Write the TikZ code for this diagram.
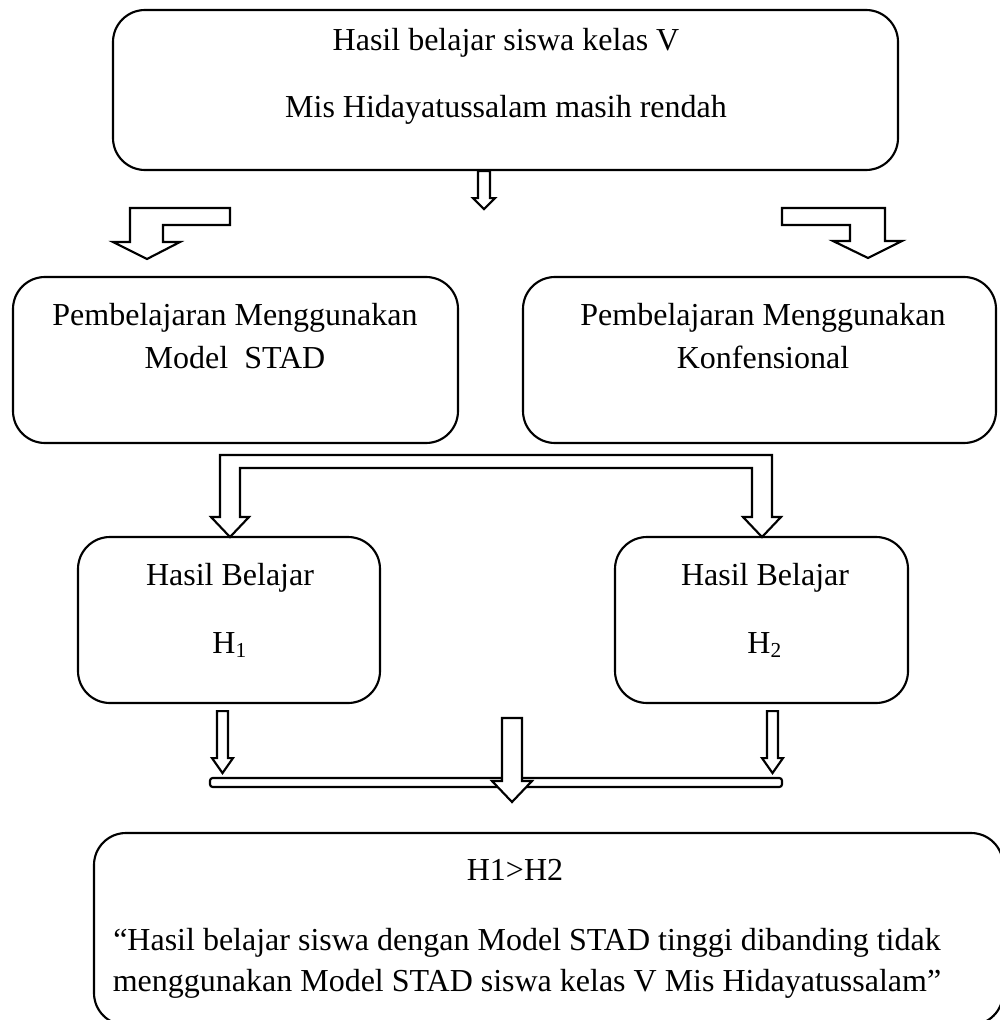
\documentclass[tikz,border=0pt]{standalone}
\usepackage{fontspec}
\setmainfont{Liberation Serif}
\newcommand{\pxu}{0.375pt}

\begin{document}
\begin{tikzpicture}[x=0.375pt,y=-0.375pt,line width=0.8pt,
    font=\fontsize{12pt}{14pt}\selectfont,
    box/.style={draw,rounded corners=12pt,inner sep=0pt},
    txt/.style={anchor=base,inner sep=0pt},
    barrow/.style={draw,fill=white,line join=miter}]
   \useasboundingbox (0,0) rectangle (999,1020);
   % boxes
   \node[box,minimum width=785*\pxu,minimum height=160*\pxu] (masalah) at (505.5,90) {};
   \node[box,minimum width=445*\pxu,minimum height=166*\pxu] (stad) at (235.5,360) {};
   \node[box,minimum width=473*\pxu,minimum height=166*\pxu] (konv) at (759.5,360) {};
   \node[box,minimum width=302*\pxu,minimum height=166*\pxu] (hasil_1) at (229,620) {};
   \node[box,minimum width=293*\pxu,minimum height=166*\pxu] (hasil_2) at (761.5,620) {};
   \node[box,minimum width=909*\pxu,minimum height=192*\pxu] (simpulan) at (548.5,929) {};
   % texts
   \node[txt] (masalah_a) at (506,51) {Hasil belajar siswa kelas V};
   \node[txt] (masalah_b) at (506,117) {Mis Hidayatussalam masih rendah};
   \node[txt] (stad_a) at (235,325) {Pembelajaran Menggunakan};
   \node[txt] (stad_b) at (235,368) {Model~ STAD};
   \node[txt] (konv_a) at (763,325) {Pembelajaran Menggunakan};
   \node[txt] (konv_b) at (763,368) {Konfensional};
   \node[txt] (hasil_1a) at (230,585) {Hasil Belajar};
   \node[txt] (hasil_1b) at (230,653) {H\textsubscript{1}};
   \node[txt] (hasil_2a) at (765,585) {Hasil Belajar};
   \node[txt] (hasil_2b) at (765,653) {H\textsubscript{2}};
   \node[txt] (simpulan_a) at (515,880) {H1>H2};
   \node[txt] (simpulan_b) at (527,950) {“Hasil belajar siswa dengan Model STAD tinggi dibanding tidak};
   \node[txt] (simpulan_c) at (527,991) {menggunakan Model STAD siswa kelas V Mis Hidayatussalam”};
   % block arrows
   \draw[barrow] (masalah.south) ++(-27.5,0) -- ++(0,27) -- ++(-5,0) -- ++(11,11)
      -- ++(11,-11) -- ++(-5,0) -- ++(0,-27) -- cycle;
   \draw[barrow] (230,208) -- (130,208) -- (130,242) -- (113,242) -- (147,259)
      -- (180,242) -- (163,242) -- (163,225) -- (230,225) -- cycle;
   \draw[barrow] (782,208) -- (885,208) -- (885,241) -- (902,241) -- (868,258)
      -- (833,241) -- (850,241) -- (850,225) -- (782,225) -- cycle;
   \draw[barrow] (220,455) -- (772,455) -- (772,517) -- (781,517) -- (762,537)
      -- (743,517) -- (752,517) -- (752,468) -- (240,468) -- (240,517)
      -- (249,517) -- (230,537) -- (211,517) -- (220,517) -- cycle;
   \draw[barrow] (hasil_1.south) ++(-12,7) -- ++(0,47) -- ++(-5,0) -- ++(10.5,15)
      -- ++(10.5,-15) -- ++(-5,0) -- ++(0,-47) -- cycle;
   \draw[barrow] (hasil_2.south) ++(5.5,7) -- ++(0,47) -- ++(-5,0) -- ++(10.5,15)
      -- ++(10.5,-15) -- ++(-5,0) -- ++(0,-47) -- cycle;
   \draw[barrow,rounded corners=1pt] (210,778) rectangle (782,787);
   \draw[barrow] (502,718) -- (502,781) -- (492,781) -- (512,802) -- (532,781)
      -- (522,781) -- (522,718) -- cycle;
\end{tikzpicture}
\end{document}
